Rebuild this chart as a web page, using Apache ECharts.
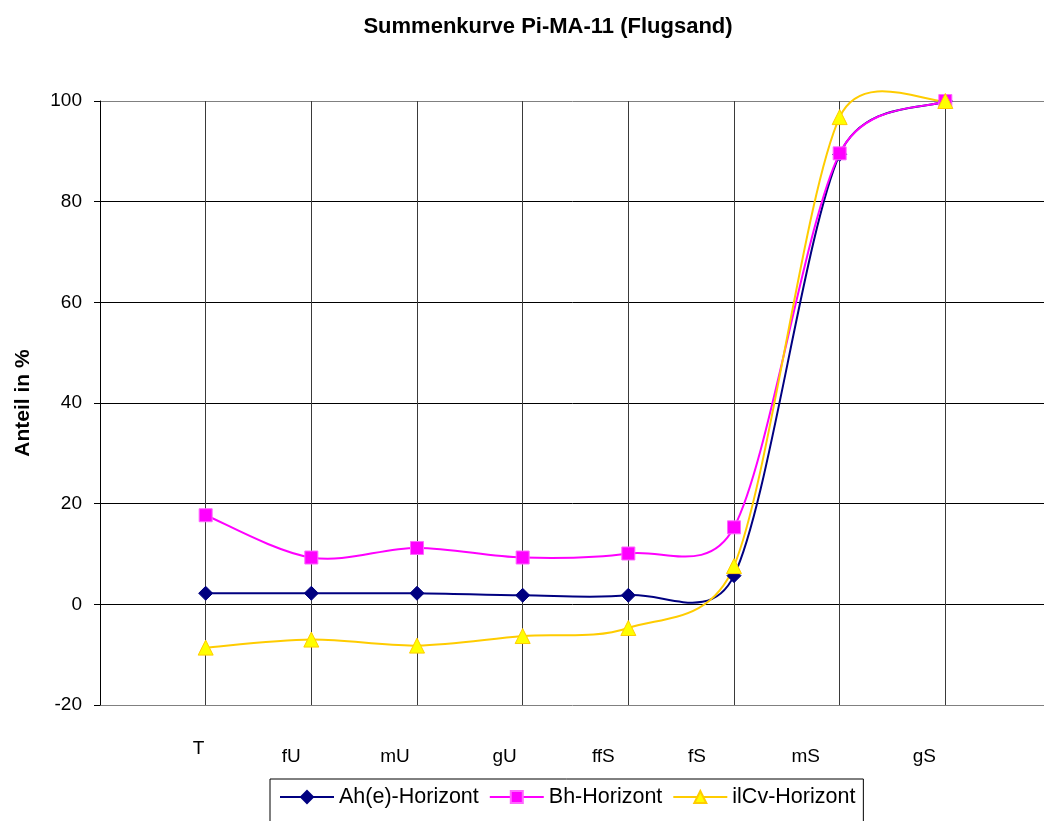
<!DOCTYPE html>
<html>
<head>
<meta charset="utf-8">
<title>Summenkurve Pi-MA-11 (Flugsand)</title>
<script src="https://cdn.jsdelivr.net/npm/echarts@6/dist/echarts.min.js"></script>
<style>
  html, body { margin: 0; padding: 0; background: #ffffff; }
  #chart { width: 1044px; height: 821px; }
</style>
</head>
<body>
<div id="chart"></div>
<script>
// Grain-size fractions (cumulative curve, fine to coarse)
const fractions = ['T', 'fU', 'mU', 'gU', 'ffS', 'fS', 'mS', 'gS'];

// Cumulative share in % per horizon
const ahHorizont   = [2.2, 2.2, 2.2, 1.8, 1.8, 5.7, 89.4, 100];
const bhHorizont   = [17.7, 9.3, 11.2, 9.3, 10.1, 15.3, 89.6, 100];
const ilcvHorizont = [-8.6, -7.0, -8.2, -6.3, -4.7, 7.6, 96.8, 100];

const seriesNames = ['Ah(e)-Horizont', 'Bh-Horizont', 'ilCv-Horizont'];
const seriesColors = ['#000080', '#FF00FF', '#FFCC00'];

const FONT = '"Liberation Sans", Arial, Helvetica, sans-serif';

// Category label placement tweaks (px) relative to each category's grid line
const labelNudgeX = [-7, -20, -22, -18, -25, -37, -34, -21];
const labelNudgeY = [-8, 0, 0, 0, 0, 0, 0, 0];

// fraction index i sits at position i + 1 on the numeric x scale
function toPoints(values) {
  return values.map((v, i) => [i + 1, v]);
}

// Spreadsheet-style smoothed polyline: cubic Bezier segments whose control
// arms follow the neighbouring points (1/6 of the chord), capped at half of
// the segment length so short segments don't loop.
function smoothPathData(pts) {
  const dist = (a, b) => Math.hypot(b[0] - a[0], b[1] - a[1]);
  let d = 'M' + pts[0][0] + ' ' + pts[0][1];
  for (let i = 0; i < pts.length - 1; i++) {
    const p0 = pts[i - 1] || pts[i];
    const p1 = pts[i];
    const p2 = pts[i + 1];
    const p3 = pts[i + 2] || pts[i + 1];
    const d12 = dist(p1, p2);
    const d02 = dist(p0, p2);
    const d13 = dist(p1, p3);
    let f0 = 1 / 6, f1 = 1 / 6;
    if (d02 * f0 > d12 / 2) f0 = (d12 / 2) / d02;
    if (d13 * f1 > d12 / 2) f1 = (d12 / 2) / d13;
    const c1 = [p1[0] + (p2[0] - p0[0]) * f0, p1[1] + (p2[1] - p0[1]) * f0];
    const c2 = [p2[0] - (p3[0] - p1[0]) * f1, p2[1] - (p3[1] - p1[1]) * f1];
    d += ' C' + c1[0] + ' ' + c1[1] + ' ' + c2[0] + ' ' + c2[1] + ' ' + p2[0] + ' ' + p2[1];
  }
  return d;
}

function curveSeries(values, color, z) {
  return {
    type: 'custom',
    name: '',
    data: [[1, values[0]]],
    clip: false,
    silent: true,
    z: z,
    renderItem: function (params, api) {
      const pts = values.map((v, i) => api.coord([i + 1, v]));
      return {
        type: 'path',
        shape: { pathData: smoothPathData(pts) },
        style: { stroke: color, lineWidth: 2, fill: null, lineJoin: 'round' }
      };
    }
  };
}

function markerSeries(name, values, color, symbol, size, fill, border, z) {
  return {
    name: name,
    type: 'line',
    data: toPoints(values),
    clip: false,
    symbol: symbol,
    symbolSize: size,
    showSymbol: true,
    lineStyle: { color: color, width: 2, opacity: 0 },
    itemStyle: { color: fill, borderColor: border, borderWidth: 1, opacity: 1 },
    z: z
  };
}

const chart = echarts.init(document.getElementById('chart'), null, { renderer: 'canvas' });

const gridLineColors = ['#808080', '#000000', '#000000', '#000000', '#000000', '#000000', '#808080'];

chart.setOption({
  animation: false,
  backgroundColor: '#ffffff',
  textStyle: { fontFamily: FONT },
  title: {
    text: 'Summenkurve Pi-MA-11 (Flugsand)',
    left: 543,
    textAlign: 'center',
    top: 11,
    textStyle: { fontSize: 22, fontWeight: 'bold', color: '#000', fontFamily: FONT }
  },
  grid: { left: 100, top: 101, bottom: 116, right: -7, containLabel: false, outerBoundsMode: 'none' },
  legend: {
    left: 270,
    top: 779,
    orient: 'horizontal',
    itemWidth: 54,
    itemHeight: 15,
    itemGap: 10,
    padding: [7, 8, 40, 9],
    borderColor: '#000',
    borderWidth: 1,
    backgroundColor: '#fff',
    textStyle: { fontSize: 21.5, color: '#000', fontFamily: FONT },
    data: seriesNames.map((n, i) => ({
      name: n,
      lineStyle: { color: seriesColors[i], width: 2, opacity: 1 }
    }))
  },
  xAxis: {
    type: 'value',
    min: 0,
    max: fractions.length + 1,
    interval: 1,
    axisLine: { show: false },
    axisTick: { show: false },
    axisLabel: { show: false },
    splitLine: { show: true, lineStyle: { color: '#3a3a3a', width: 1 } }
  },
  yAxis: {
    type: 'value',
    min: -20,
    max: 100,
    interval: 20,
    name: 'Anteil in %',
    nameLocation: 'middle',
    nameRotate: 90,
    nameGap: 66,
    nameTextStyle: { fontSize: 21, fontWeight: 'bold', color: '#000', fontFamily: FONT },
    axisLine: { show: true, lineStyle: { color: '#000', width: 1 } },
    axisTick: { show: true, length: 6, inside: false, lineStyle: { color: '#000' } },
    axisLabel: { fontSize: 19, color: '#000', margin: 18, fontFamily: FONT },
    splitLine: { show: true, lineStyle: { color: gridLineColors, width: 1 } }
  },
  series: [
    curveSeries(ahHorizont, seriesColors[0], 2),
    curveSeries(bhHorizont, seriesColors[1], 3),
    curveSeries(ilcvHorizont, seriesColors[2], 4),
    markerSeries(seriesNames[0], ahHorizont, seriesColors[0], 'diamond', 14, '#000080', '#000080', 5),
    markerSeries(seriesNames[1], bhHorizont, seriesColors[1], 'rect', 13, '#FF00FF', '#FF66FF', 6),
    markerSeries(seriesNames[2], ilcvHorizont, seriesColors[2], 'triangle', 15, '#FFFF00', '#FFCC00', 7)
  ]
});

// Category names under the plot, placed from the axis scale
const baseLabelY = 757;
chart.setOption({
  graphic: fractions.map((name, i) => {
    const px = chart.convertToPixel({ xAxisIndex: 0 }, i + 1);
    return {
      type: 'text',
      x: px + labelNudgeX[i],
      y: baseLabelY + labelNudgeY[i],
      style: {
        text: name,
        fontSize: 19,
        fontFamily: FONT,
        fill: '#000',
        align: 'center',
        verticalAlign: 'middle'
      }
    };
  })
});
</script>
</body>
</html>
